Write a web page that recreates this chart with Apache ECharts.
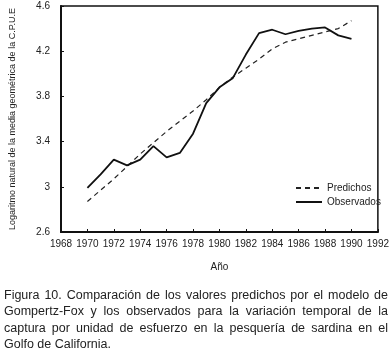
<!DOCTYPE html>
<html>
<head>
<meta charset="utf-8">
<script src="https://cdn.jsdelivr.net/npm/echarts@6/dist/echarts.min.js"></script>
<style>
html,body{margin:0;padding:0;background:#fff}
#view-chart{width:392px;height:359px}
</style>
</head>
<body>
<div id="view-chart"></div>
<script>
var years = [1970,1971,1972,1973,1974,1975,1976,1977,1978,1979,1980,1981,1982,1983,1984,1985,1986,1987,1988,1989,1990];
var predichos = [2.87,2.97,3.07,3.18,3.29,3.39,3.49,3.58,3.67,3.77,3.88,3.97,4.05,4.13,4.22,4.28,4.31,4.34,4.37,4.40,4.47];
var observados = [2.99,3.11,3.24,3.19,3.24,3.36,3.26,3.30,3.47,3.74,3.88,3.96,4.17,4.36,4.39,4.35,4.38,4.40,4.41,4.34,4.31];
var captionLines = [
	"Figura 10. Comparación de los valores predichos por el modelo de",
	"Gompertz-Fox y los observados para la variación temporal de la",
	"captura por unidad de esfuerzo en la pesquería de sardina en el",
	"Golfo de California."
];

var narrow = '"Liberation Sans Narrow", "Liberation Sans", sans-serif';
var capFont = '12.5px "Liberation Sans", Arial, sans-serif';

function _each(a, f) { for (var k = 0; k < a.length; k++) f(a[k], k); }

// justified caption, one text per word
var ctx = document.createElement("canvas").getContext("2d");
ctx.font = capFont;
var capLeft = 4, capRight = 388, capTop = 289, capStep = 16.3;
var captionEls = [];
_each(captionLines, function(line, i) {
	var words = line.split(" "), widths = [], total = 0;
	_each(words, function(w) { var m = ctx.measureText(w).width; widths.push(m); total += m; });
	var last = i == captionLines.length - 1;
	var gap = last ? ctx.measureText(" ").width : (capRight - capLeft - total) / (words.length - 1);
	var x = capLeft;
	_each(words, function(w, j) {
		captionEls.push({
			type: "text", left: x, top: capTop + i * capStep,
			style: { text: w, font: capFont, fill: "#222" }
		});
		x += widths[j] + gap;
	});
});

function pairs(vals) {
	return years.map(function(y, i) { return [y, vals[i]]; });
}

var myChart = echarts.init(document.getElementById("view-chart"));
var option = {
	animation: false,
	grid: { left: 55, top: 6, right: 10, bottom: 127, show: true, borderColor: "#111", borderWidth: 1.5 },
	xAxis: {
		type: "value", min: 1968, max: 1992, interval: 2,
		name: "Año", nameLocation: "middle", nameGap: 30,
		nameTextStyle: { fontFamily: narrow, fontSize: 10, color: "#222" },
		axisLine: { lineStyle: { color: "#111", width: 2 } },
		axisTick: { inside: true, length: 3, lineStyle: { color: "#111" } },
		axisLabel: { margin: 7, fontFamily: narrow, fontSize: 10, color: "#222",
			formatter: function(v) { return String(v); } },
		splitLine: { show: false }
	},
	yAxis: {
		type: "value", min: 2.6, max: 4.6, interval: 0.4,
		name: "Logaritmo natural de la media geométrica de la C.P.U.E", nameLocation: "middle", nameGap: 44,
		nameTextStyle: { fontFamily: narrow, fontSize: 9, color: "#222" },
		axisLine: { lineStyle: { color: "#111", width: 2 } },
		axisTick: { inside: true, length: 3, lineStyle: { color: "#111" } },
		axisLabel: { margin: 11, fontFamily: narrow, fontSize: 10, color: "#222" },
		splitLine: { show: false }
	},
	legend: {
		orient: "vertical", left: 290, top: 178, itemGap: 4, itemWidth: 26, itemHeight: 10,
		itemStyle: { opacity: 0 },
		textStyle: { fontFamily: narrow, fontSize: 10, color: "#222" },
		data: ["Predichos", "Observados"]
	},
	series: [
		{ name: "Predichos", type: "line", data: pairs(predichos), symbol: "none",
		  lineStyle: { color: "#222", width: 1.2, type: [5, 4] }, itemStyle: { color: "#222" } },
		{ name: "Observados", type: "line", data: pairs(observados), symbol: "none",
		  lineStyle: { color: "#111", width: 1.8 }, itemStyle: { color: "#111" } }
	],
	graphic: captionEls
};
myChart.setOption(option);
</script>
</body>
</html>
